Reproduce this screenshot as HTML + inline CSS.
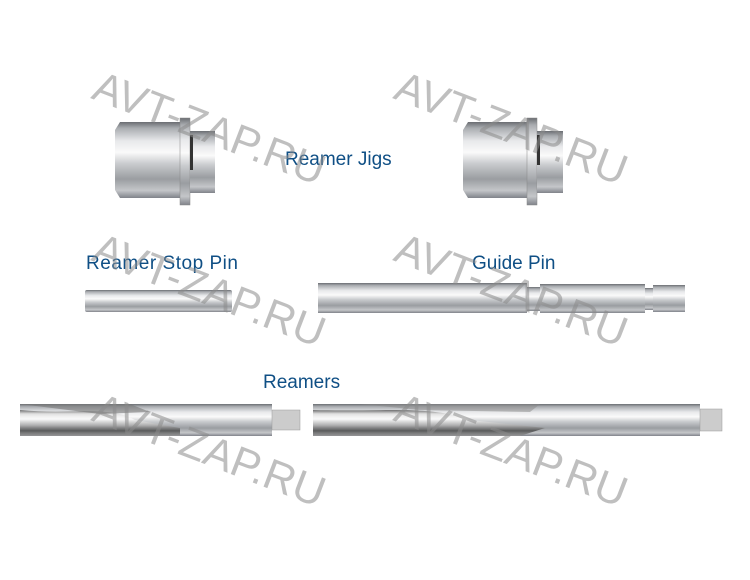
<!DOCTYPE html>
<html><head><style>html,body{margin:0;padding:0;background:#fff;width:750px;height:580px;overflow:hidden}</style></head>
<body>
<svg width="750" height="580" xmlns="http://www.w3.org/2000/svg">
<defs>
<linearGradient id="m" x1="0" y1="0" x2="0" y2="1">
<stop offset="0" stop-color="#6a6d72"/><stop offset="0.08" stop-color="#a9acb0"/>
<stop offset="0.25" stop-color="#e8e9eb"/><stop offset="0.4" stop-color="#fafafa"/>
<stop offset="0.55" stop-color="#c9cbce"/><stop offset="0.75" stop-color="#9a9da1"/>
<stop offset="0.9" stop-color="#c4c6c9"/><stop offset="1" stop-color="#80838a"/>
</linearGradient>
<linearGradient id="r" x1="0" y1="0" x2="0" y2="1">
<stop offset="0" stop-color="#555"/><stop offset="0.15" stop-color="#ddd"/>
<stop offset="0.35" stop-color="#fff"/><stop offset="0.6" stop-color="#aaa"/>
<stop offset="0.8" stop-color="#444"/><stop offset="1" stop-color="#999"/>
</linearGradient>
</defs>
<g>
<path d="M120,122 L180,122 L180,198 L120,198 L115,190 L115,130 Z" fill="url(#m)"/>
<rect x="180" y="118" width="10" height="87" fill="url(#m)" stroke="#888" stroke-width="0.5"/>
<rect x="190" y="131" width="25" height="62" fill="url(#m)"/>
<rect x="190" y="135" width="3" height="35" fill="#333"/>
</g>
<g>
<path d="M468,122 L527,122 L527,198 L468,198 L463,190 L463,130 Z" fill="url(#m)"/>
<rect x="527" y="118" width="10" height="87" fill="url(#m)" stroke="#888" stroke-width="0.5"/>
<rect x="537" y="131" width="26" height="62" fill="url(#m)"/>
<rect x="537" y="135" width="3" height="30" fill="#333"/>
</g>
<rect x="85" y="290" width="147" height="22" rx="2" fill="url(#m)"/>
<rect x="318" y="283" width="209" height="30" fill="url(#m)"/>
<rect x="527" y="287" width="13" height="24" fill="url(#m)"/>
<rect x="540" y="284" width="105" height="29" fill="url(#m)"/>
<rect x="645" y="288" width="8" height="22" fill="url(#m)"/>
<rect x="653" y="285" width="32" height="27" fill="url(#m)"/>
<rect x="20" y="404" width="252" height="32" fill="url(#m)"/>
<path d="M20,410 C70,415 110,405 135,420 L180,428 L180,436 L20,436 Z" fill="url(#r)" opacity="0.8"/>
<path d="M20,404 L130,404 L150,412 L100,414 Z" fill="#777" opacity="0.6"/>
<rect x="272" y="410" width="28" height="20" fill="#ccc" stroke="#999" stroke-width="0.5"/>
<rect x="313" y="404" width="387" height="32" fill="url(#m)"/>
<path d="M313,410 C380,412 430,405 470,420 L545,428 L520,436 L313,436 Z" fill="url(#r)" opacity="0.8"/>
<path d="M360,404 L540,404 L530,412 L420,410 Z" fill="#888" opacity="0.5"/>
<rect x="700" y="409" width="22" height="22" fill="#ccc" stroke="#999" stroke-width="0.5"/>
<g font-family="Liberation Sans, sans-serif" font-size="19" fill="#0f4f85">
<text x="285" y="165">Reamer Jigs</text>
<text x="86" y="269" textLength="152">Reamer Stop Pin</text>
<text x="472" y="269">Guide Pin</text>
<text x="263" y="388">Reamers</text>
</g>
<g font-family="Liberation Sans, sans-serif" font-size="43" fill="#8a8a8a" opacity="0.55">
<text transform="translate(90,98) rotate(21)">AVT-ZAP.RU</text>
<text transform="translate(392,98) rotate(21)">AVT-ZAP.RU</text>
<text transform="translate(90,260) rotate(21)">AVT-ZAP.RU</text>
<text transform="translate(392,260) rotate(21)">AVT-ZAP.RU</text>
<text transform="translate(90,420) rotate(21)">AVT-ZAP.RU</text>
<text transform="translate(392,420) rotate(21)">AVT-ZAP.RU</text>
</g>
</svg>
</body></html>
